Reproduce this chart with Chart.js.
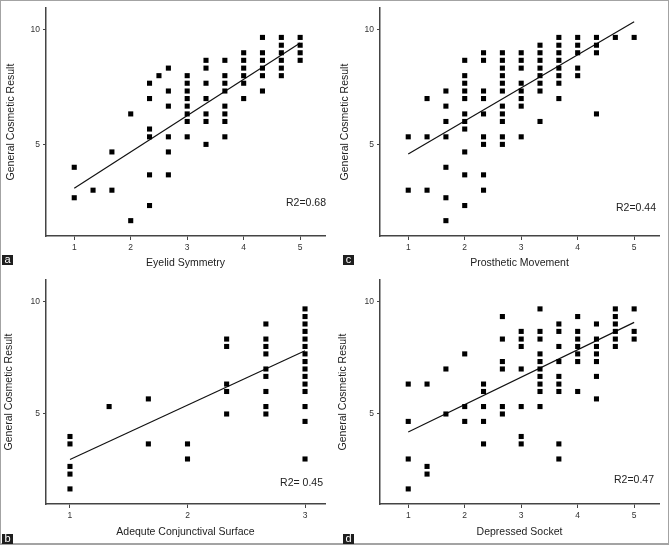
<!DOCTYPE html>
<html>
<head>
<meta charset="utf-8">
<script src="https://cdn.jsdelivr.net/npm/chart.js@4/dist/chart.umd.min.js"></script>
<style>
body{margin:0;background:#fff;width:669px;height:545px;position:relative;overflow:hidden}
canvas{position:absolute}
#frame{position:absolute;left:0;top:0;width:667px;height:542px;border:1px solid #a3a3a3;border-bottom-width:2px}
.tag{position:absolute;width:11px;height:10px;background:#1e1e1e;color:#fff;font:11px "Liberation Sans",Arial,sans-serif;line-height:9px;text-align:center}
</style>
</head>
<body>
<canvas id="pa" width="334" height="271" style="left:0;top:0"></canvas>
<canvas id="pc" width="335" height="271" style="left:334px;top:0"></canvas>
<canvas id="pb" width="334" height="273" style="left:0;top:272px"></canvas>
<canvas id="pd" width="335" height="273" style="left:334px;top:272px"></canvas>
<div id="frame"></div>
<div class="tag" style="left:2px;top:255px">a</div>
<div class="tag" style="left:343px;top:255px">c</div>
<div class="tag" style="left:2px;top:534px">b</div>
<div class="tag" style="left:343px;top:534px">d</div>
<script>
let yTitle = "General Cosmetic Result"
let yTicks = [5, 10]
let xTicks5 = [1, 2, 3, 4, 5]
let xTicks3 = [1, 2, 3]

// a - eyelid symmetry
let eyelidCols = [1, 1.333, 1.667, 2, 2.333, 2.5, 2.667, 3, 3.333, 3.667, 4, 4.333, 4.667, 5]
let eyelidVals = [[4, 2.67], [3], [4.67, 3], [6.33, 1.67], [7.67, 7, 5.67, 5.33, 3.67, 2.33], [8], [8.33, 7.33, 6.67, 5.33, 4.67, 3.67], [8, 7.67, 7.33, 7, 6.67, 6.33, 6, 5.33], [8.67, 8.33, 7.67, 7, 6.33, 6, 5], [8.67, 8, 7.67, 7.33, 6.67, 6.33, 6, 5.33], [9, 8.67, 8.33, 8, 7.67, 7], [9.67, 9, 8.67, 8.33, 8, 7.33], [9.67, 9.33, 9, 8.67, 8.33, 8], [9.67, 9.33, 9, 8.67]]
let eyelidFit = [[1, 3.08], [5, 9.43]]

// c - prosthetic movement
let movementCols = [1, 1.333, 1.667, 2, 2.333, 2.667, 3, 3.333, 3.667, 4, 4.333, 4.667, 5]
let movementVals = [[5.33, 3], [7, 5.33, 3], [7.33, 6.67, 6, 5.33, 4, 2.67, 1.67], [8.67, 8, 7.67, 7.33, 7, 6.33, 6, 5.67, 4.67, 3.67, 2.33], [9, 8.67, 7.33, 7, 6.33, 5.33, 5, 3.67, 3], [9, 8.67, 8.33, 8, 7.67, 7.33, 6.67, 6.33, 6, 5.33, 5], [9, 8.67, 8.33, 7.67, 7.33, 7, 6.67, 5.33], [9.33, 9, 8.67, 8.33, 8, 7.67, 7.33, 6], [9.67, 9.33, 9, 8.67, 8.33, 8, 7.67, 7], [9.67, 9.33, 9, 8.33, 8], [9.67, 9.33, 9, 6.33], [9.67], [9.67]]
let movementFit = [[1, 4.58], [5, 10.35]]

// b - adequate conjunctival surface
let surfaceCols = [1, 1.333, 1.667, 2, 2.333, 2.667, 3]
let surfaceVals = [[4, 3.67, 2.67, 2.33, 1.67], [5.33], [5.67, 3.67], [3.67, 3], [8.33, 8, 6.33, 6, 5], [9, 8.33, 8, 7.67, 7, 6.67, 6, 5.33, 5], [9.67, 9.33, 9, 8.67, 8.33, 8, 7.67, 7.33, 7, 6.67, 6.33, 6, 5.33, 4.67, 3]]
let surfaceFit = [[1, 2.98], [3, 7.81]]

// d - depressed socket
let socketCols = [1, 1.333, 1.667, 2, 2.333, 2.667, 3, 3.333, 3.667, 4, 4.333, 4.667, 5]
let socketVals = [[6.33, 4.67, 3, 1.67], [6.33, 2.67, 2.33], [7, 5], [7.67, 5.33, 4.67], [6.33, 6, 5.33, 4.67, 3.67], [9.33, 8.33, 7.33, 7, 5.33, 5], [8.67, 8.33, 8, 7, 5.33, 4, 3.67], [9.67, 8.67, 8.33, 7.67, 7.33, 7, 6.67, 6.33, 6, 5.33], [9, 8.67, 8, 7.33, 6.67, 6.33, 6, 3.67, 3], [9.33, 8.67, 8.33, 8, 7.67, 7.33, 6], [9, 8.33, 8, 7.67, 7.33, 6.67, 5.67], [9.67, 9.33, 9, 8.67, 8.33, 8], [9.67, 8.67, 8.33]]
let socketFit = [[1, 4.20], [5, 9.07]]

let font = '"Liberation Sans", Arial, sans-serif'

let r2Plugin = {
  id: "r2",
  afterDraw(chart){
    let o = chart.options.plugins.r2
    let ctx = chart.ctx
    ctx.save()
    ctx.font = "10.5px " + font
    ctx.fillStyle = "#222"
    ctx.textAlign = "right"
    ctx.textBaseline = "middle"
    ctx.fillText(o.text, chart.chartArea.right + o.dx, chart.chartArea.bottom - o.dy)
    ctx.restore()
  }
}

function points(cols, vals){
  let out = []
  cols.forEach((x, i) => vals[i].forEach(y => out.push({x: x, y: y})))
  return out
}

function panel(id, cols, vals, fit, ticks, xMin, xMax, xTitle, r2, lay){
  new Chart(document.getElementById(id), {
    type: "scatter",
    data: {
      datasets: [{
        data: points(cols, vals),
        pointStyle: "rect",
        pointRadius: 3.6,
        pointBorderWidth: 0,
        backgroundColor: "#000",
        borderColor: "#000"
      }, {
        data: fit.map(p => ({x: p[0], y: p[1]})),
        showLine: true,
        pointRadius: 0,
        borderColor: "#111",
        borderWidth: 1.2
      }]
    },
    options: {
      responsive: false,
      animation: false,
      devicePixelRatio: 1,
      layout: {padding: {left: 0, top: lay.top, right: lay.right, bottom: 0}},
      plugins: {legend: {display: false}, tooltip: {enabled: false}, r2: r2},
      scales: {
        x: {
          type: "linear", min: xMin, max: xMax,
          afterBuildTicks: s => { s.ticks = ticks.map(v => ({value: v})) },
          afterFit: s => { s.height = lay.xh },
          border: {color: "#444", width: 1.5},
          grid: {drawOnChartArea: false, drawTicks: true, tickLength: 4, color: "#444"},
          ticks: {color: "#333", font: {size: 8.5, family: font}, padding: 3},
          title: {display: true, text: xTitle, color: "#222", font: {size: 10.5, family: font}, padding: {top: 0, bottom: lay.tb}}
        },
        y: {
          type: "linear", min: 1, max: 10.95,
          afterBuildTicks: s => { s.ticks = yTicks.map(v => ({value: v})) },
          afterFit: s => { s.width = 46 },
          border: {color: "#444", width: 1.5},
          grid: {drawOnChartArea: false, drawTicks: true, tickLength: 3, color: "#444"},
          ticks: {color: "#333", font: {size: 8.5, family: font}, padding: 3},
          title: {display: true, text: yTitle, color: "#222", font: {size: 10.5, family: font}, padding: {top: lay.tl, bottom: 0}}
        }
      }
    },
    plugins: [r2Plugin]
  })
}

panel("pa", eyelidCols, eyelidVals, eyelidFit, xTicks5, 0.5, 5.44, "Eyelid Symmetry",
  {text: "R2=0.68", dx: 1, dy: 33}, {top: 7, right: 9, xh: 35, tb: 2, tl: 5})
panel("pc", movementCols, movementVals, movementFit, xTicks5, 0.5, 5.44, "Prosthetic Movement",
  {text: "R2=0.44", dx: -3, dy: 28}, {top: 7, right: 10, xh: 35, tb: 2, tl: 5})
panel("pb", surfaceCols, surfaceVals, surfaceFit, xTicks3, 0.796, 3.17, "Adequte Conjunctival Surface",
  {text: "R2= 0.45", dx: -2, dy: 21}, {top: 4, right: 9, xh: 41, tb: 7, tl: 3})
panel("pd", socketCols, socketVals, socketFit, xTicks5, 0.5, 5.44, "Depressed Socket",
  {text: "R2=0.47", dx: -5, dy: 24}, {top: 4, right: 10, xh: 41, tb: 7, tl: 3})
</script>
</body>
</html>
